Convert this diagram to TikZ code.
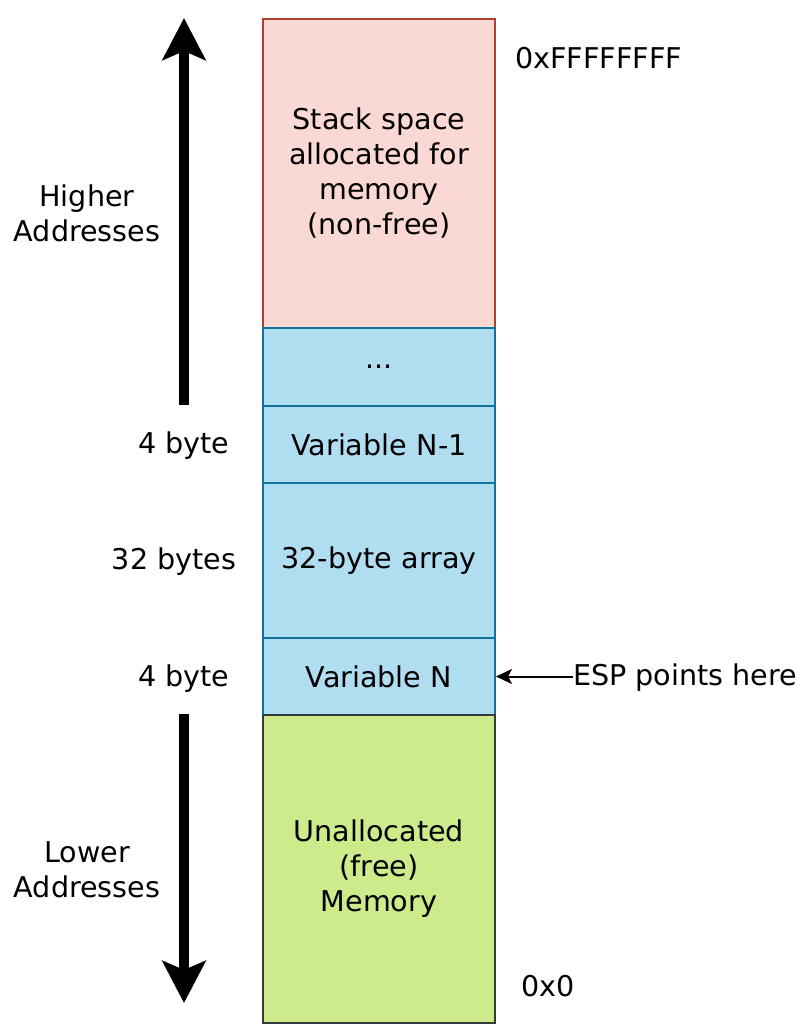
\documentclass[tikz,border=0pt]{standalone}
\usepackage{fontspec}
\setmainfont{DejaVu Sans}
\usetikzlibrary{arrows.meta}
\definecolor{redfill}{HTML}{FAD9D5}
\definecolor{redline}{HTML}{AE4132}
\definecolor{bluefill}{HTML}{B1DDF0}
\definecolor{blueline}{HTML}{10739E}
\definecolor{greenfill}{HTML}{CDEB8B}
\definecolor{greenline}{HTML}{36393D}
\begin{document}
\begin{tikzpicture}[x=1pt,y=-1pt,
  every node/.style={font=\fontsize{28.6}{35}\selectfont, inner sep=0pt},
  cell/.style={draw, line width=2pt, minimum width=232pt, anchor=north west, align=center, text width=220pt},
  redcell/.style={cell, fill=redfill, draw=redline},
  bluecell/.style={cell, fill=bluefill, draw=blueline},
  greencell/.style={cell, fill=greenfill, draw=greenline},
  lbl/.style={align=center},
  bigarrow/.style={line width=10pt, -{Stealth[length=42pt, width=43pt, inset=9pt]}},
  thinarrow/.style={line width=2pt, -{Stealth[length=16pt, width=15pt, inset=4pt]}}
]
\useasboundingbox (0,0) rectangle (804,1024);
\node[redcell, minimum height=309pt] (stack) at (262,18) {Stack space\\allocated for\\memory\\(non-free)};
\node[bluecell, minimum height=78pt] (dots) at (262,327) {...};
\node[bluecell, minimum height=77pt] (varn1) at (262,405) {Variable N-1};
\node[bluecell, minimum height=155pt] (arr) at (262,482) {32-byte array};
\node[bluecell, minimum height=77pt] (varn) at (262,637) {Variable N};
\node[greencell, minimum height=308pt] (free) at (262,714) {Unallocated\\(free)\\Memory};

\node[lbl] (hi) at (87,213) {Higher\\Addresses};
\node[lbl] (lo) at (87,870) {Lower\\Addresses};
\node[lbl] (b1) at (184,446) {4 byte};
\node[lbl] (b32) at (174,562) {32 bytes};
\node[lbl] (b4) at (184,679) {4 byte};
\node[anchor=west] (top) at (515,58) {0xFFFFFFFF};
\node[anchor=west] (bot) at (521,986) {0x0};
\node[anchor=west] (esp) at (573,678) {ESP points here};

\coordinate (upS) at (184,405);
\coordinate (upE) at (184,18);
\coordinate (dnS) at (184,714);
\coordinate (dnE) at (184,1003);
\draw[bigarrow] (upS) -- (upE);
\draw[bigarrow] (dnS) -- (dnE);
\draw[thinarrow] (esp.west |- varn.east) -- (varn.east);
\end{tikzpicture}
\end{document}
